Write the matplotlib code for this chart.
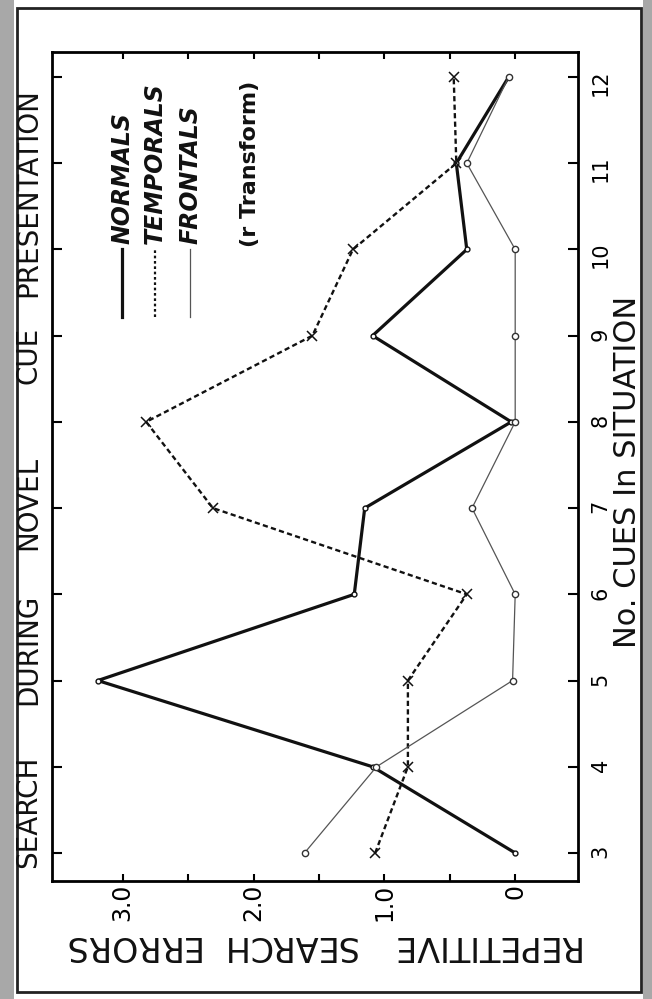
import matplotlib
matplotlib.use("Agg")
import matplotlib.pyplot as plt
from matplotlib.lines import Line2D
from matplotlib.patches import Rectangle

cues = [3, 4, 5, 6, 7, 8, 9, 10, 11, 12]
normals = [0.0, 1.09, 3.19, 1.23, 1.15, 0.03, 1.09, 0.37, 0.45, 0.05]
temporals = [1.07, 0.82, 0.82, 0.37, 2.31, 2.82, 1.55, 1.24, 0.45, 0.47]
frontals = [1.61, 1.06, 0.02, 0.0, 0.33, 0.0, 0.0, 0.0, 0.37, 0.05]

err_ticks = [0, 1, 2, 3]
err_labels = ["0", "1.0", "2.0", "3.0"]
title_words = ["SEARCH", "DURING", "NOVEL", "CUE", "PRESENTATION"]
title_pos = [812, 649, 503, 355, 193]
ylab_words = ["REPETITIVE", "SEARCH", "ERRORS"]
ylab_pos = [484, 288, 130]
legend_names = ["NORMALS", "TEMPORALS", "FRONTALS"]

W, H = 652, 999


def fx(px):
    return px / W


def fy(py):
    return 1 - py / H


fig = plt.figure(figsize=(6.52, 9.99), dpi=100)
fig.patch.set_facecolor("white")

# scanned page edges
fig.add_artist(Rectangle((0, 0), fx(14), 1, transform=fig.transFigure,
                         color="#a8a8a8", lw=0))
fig.add_artist(Rectangle((fx(643), 0), 1 - fx(643), 1, transform=fig.transFigure,
                         color="#a8a8a8", lw=0))
fig.add_artist(Rectangle((fx(17), fy(992)), fx(641) - fx(17), fy(8) - fy(992),
                         transform=fig.transFigure, fill=False, lw=2, ec="#222"))

ax = fig.add_axes([fx(52), fy(881), fx(578) - fx(52), fy(52) - fy(881)])
ax.set_xlim(3.54, -0.48)
ax.set_ylim(2.675, 12.29)

ax.plot(normals, cues, color="#111", lw=2.3, marker="o", ms=3.5,
        mfc="white", mec="#111", mew=1)
ax.plot(temporals, cues, color="#111", lw=1.7, dashes=(2.2, 1.4),
        marker="x", ms=7, mew=1.1)
ax.plot(frontals, cues, color="#555", lw=0.9, marker="o", ms=4.5,
        mfc="white", mec="#333", mew=1)

ax.set_xticks(err_ticks)
ax.set_xticks([0.5, 1.5, 2.5], minor=True)
ax.set_xticklabels(err_labels)
ax.set_yticks(cues)
ax.yaxis.tick_right()
ax.tick_params(axis="x", which="both", direction="in", top=True, bottom=True,
               length=5, width=1.5, labelsize=17, pad=2, labelrotation=90)
ax.tick_params(axis="y", direction="in", left=True, right=True, length=7,
               width=1.5, labelsize=15, pad=9, labelrotation=90)
for s in ax.spines.values():
    s.set_linewidth(2)

# title, written along the left edge
for w, p in zip(title_words, title_pos):
    fig.text(fx(28), fy(p), w, rotation=90, ha="center", va="center",
             fontsize=20, color="#111")

# error axis label, upside down along the bottom
for w, p in zip(ylab_words, ylab_pos):
    fig.text(fx(p), fy(945), w, rotation=180, ha="center", va="center",
             fontsize=24, color="#111")

fig.text(fx(628), fy(472), "No. CUES In SITUATION", rotation=90,
         ha="center", va="center", fontsize=22, color="#111")

# legend drawn by hand
styles = [dict(lw=2.3), dict(lw=1.6, dashes=(1.2, 1.2)), dict(lw=0.9, color="#555")]
for name, lx, st in zip(legend_names, [122, 155, 190], styles):
    kw = dict(color="#111")
    kw.update(st)
    fig.add_artist(Line2D([fx(lx), fx(lx)], [fy(317), fy(249)],
                          transform=fig.transFigure, **kw))
    fig.text(fx(lx), fy(244), name, rotation=90, ha="center", va="bottom",
             fontsize=17, fontweight="bold", fontstyle="italic", color="#111")

fig.text(fx(250), fy(247), "(r Transform)", rotation=90, ha="center",
         va="bottom", fontsize=16, fontweight="bold", color="#111")

fig.savefig("out.png", dpi=100)
